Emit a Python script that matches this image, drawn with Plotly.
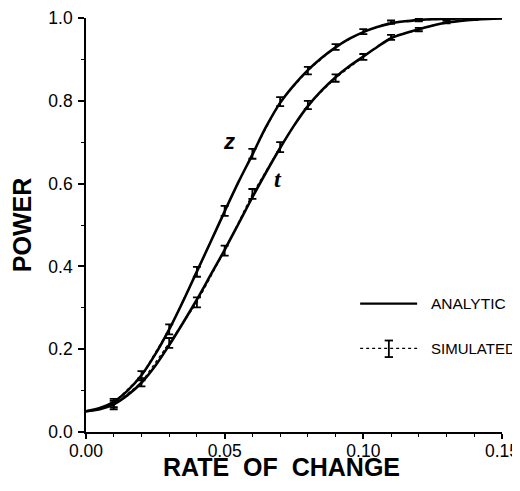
import plotly.graph_objects as go

# Analytic power curves
rate_fine = [0.000, 0.005, 0.010, 0.015, 0.020, 0.025, 0.030, 0.035, 0.040, 0.045,
             0.050, 0.055, 0.060, 0.065, 0.070, 0.075, 0.080, 0.085, 0.090, 0.095,
             0.100, 0.105, 0.110, 0.115, 0.120, 0.125, 0.130, 0.135, 0.140, 0.145, 0.150]
z_analytic = [0.050, 0.058, 0.073, 0.100, 0.137, 0.188, 0.248, 0.316, 0.388, 0.460,
              0.533, 0.604, 0.670, 0.738, 0.795, 0.838, 0.874, 0.904, 0.929, 0.950,
              0.966, 0.978, 0.987, 0.992, 0.995, 0.997, 0.998, 0.999, 0.9995, 1.000, 1.000]
t_analytic = [0.050, 0.055, 0.067, 0.089, 0.119, 0.160, 0.210, 0.264, 0.320, 0.380,
              0.440, 0.503, 0.567, 0.628, 0.686, 0.740, 0.787, 0.825, 0.857, 0.884,
              0.907, 0.930, 0.951, 0.963, 0.973, 0.982, 0.989, 0.993, 0.996, 0.998, 0.999]

# Simulated power with error bars
rate_sim = [0.01, 0.02, 0.03, 0.04, 0.05, 0.06, 0.07, 0.08, 0.09, 0.10, 0.11, 0.12, 0.13, 0.14]
z_sim = [0.070, 0.136, 0.248, 0.387, 0.534, 0.672, 0.798, 0.873, 0.930, 0.967, 0.990, 0.995, 0.998, 0.999]
z_err = [0.010, 0.011, 0.012, 0.012, 0.012, 0.012, 0.011, 0.009, 0.007, 0.006, 0.004, 0.003, 0.002, 0.001]
t_sim = [0.065, 0.120, 0.215, 0.313, 0.438, 0.575, 0.688, 0.790, 0.855, 0.906, 0.953, 0.972, 0.990, 0.997]
t_err = [0.010, 0.010, 0.012, 0.012, 0.012, 0.012, 0.012, 0.010, 0.009, 0.007, 0.006, 0.004, 0.003, 0.002]

fig = go.Figure()

for yv in (z_analytic, t_analytic):
    fig.add_trace(go.Scatter(x=rate_fine, y=yv, mode="lines", line=dict(color="black", width=2.6, shape="spline"),
                             showlegend=False, hoverinfo="skip", cliponaxis=False))

for yv, ev in ((z_sim, z_err), (t_sim, t_err)):
    fig.add_trace(go.Scatter(x=rate_sim, y=yv, mode="lines", line=dict(color="black", width=1.2, dash="dot"),
                             error_y=dict(type="data", array=ev, visible=True, color="black", thickness=1.8, width=4),
                             showlegend=False, cliponaxis=False))

# Curve labels
fig.add_annotation(x=0.0516, y=0.702, text="<b><i>z</i></b>", showarrow=False,
                   font=dict(family="Liberation Sans", size=22, color="black"))
fig.add_annotation(x=0.0692, y=0.61, text="<b><i>t</i></b>", showarrow=False,
                   font=dict(family="Liberation Serif", size=24, color="black"))

# X axis title
fig.add_annotation(xref="paper", yref="paper", x=0.471, y=-0.0845, text="<b>RATE\u00a0\u00a0OF\u00a0\u00a0CHANGE</b>",
                   showarrow=False, xanchor="center", yanchor="middle", height=22,
                   font=dict(family="Liberation Sans", size=25, color="black"))

# Legend (drawn manually)
fig.add_shape(type="line", xref="paper", yref="paper", x0=0.659, x1=0.796, y0=0.31, y1=0.31,
              line=dict(color="black", width=2.4))
fig.add_shape(type="line", xref="paper", yref="paper", x0=0.659, x1=0.798, y0=0.202, y1=0.202,
              line=dict(color="black", width=1.2, dash="dot"))
fig.add_shape(type="line", xref="paper", yref="paper", x0=0.728, x1=0.728, y0=0.181, y1=0.221,
              line=dict(color="black", width=1.8))
for yy in (0.181, 0.221):
    fig.add_shape(type="line", xref="paper", yref="paper", x0=0.718, x1=0.738, y0=yy, y1=yy,
                  line=dict(color="black", width=1.8))
fig.add_annotation(xref="paper", yref="paper", x=0.825, y=0.31, text="ANALYTIC", showarrow=False,
                   xanchor="left", yanchor="middle", font=dict(family="Liberation Sans", size=15.5, color="black"))
fig.add_annotation(xref="paper", yref="paper", x=0.825, y=0.202, text="SIMULATED", showarrow=False,
                   xanchor="left", yanchor="middle", font=dict(family="Liberation Sans", size=15, color="black"))

# Page body has an 8px margin, so the figure is sized/offset to compensate
fig.update_layout(
    width=512, height=483,
    margin=dict(l=78, r=18, t=10, b=59, autoexpand=False),
    paper_bgcolor="white", plot_bgcolor="white",
    font=dict(family="Liberation Sans", color="black"),
    xaxis=dict(range=[0, 0.15], tickvals=[0, 0.05, 0.10, 0.15], ticktext=["0.00", "0.05", "0.10", "0.15"],
               automargin=False, ticklabeloverflow="allow", ticklabelstandoff=-3,
               showgrid=False, zeroline=False, showline=True, linecolor="black", linewidth=1.6,
               ticks="outside", ticklen=5, tickwidth=1.6, tickcolor="black",
               tickfont=dict(size=17.5),
               minor=dict(tickvals=[0.01, 0.02, 0.03, 0.04, 0.06, 0.07, 0.08, 0.09, 0.11, 0.12, 0.13, 0.14],
                          ticks="outside", ticklen=3, tickwidth=1.2, tickcolor="black")),
    yaxis=dict(range=[0, 1.0], tickvals=[0, 0.2, 0.4, 0.6, 0.8, 1.0], ticktext=["0.0", "0.2", "0.4", "0.6", "0.8", "1.0"],
               automargin=False, ticklabeloverflow="allow", ticklabelstandoff=2,
               showgrid=False, zeroline=False, showline=True, linecolor="black", linewidth=1.6,
               ticks="outside", ticklen=6, tickwidth=1.6, tickcolor="black",
               tickfont=dict(size=17.5),
               minor=dict(tickvals=[0.1, 0.3, 0.5, 0.7, 0.9], ticks="outside", ticklen=3, tickwidth=1.2, tickcolor="black"),
               title=dict(text="<b>POWER</b>", font=dict(size=25), standoff=13)),
)

fig.write_html("out.html")
